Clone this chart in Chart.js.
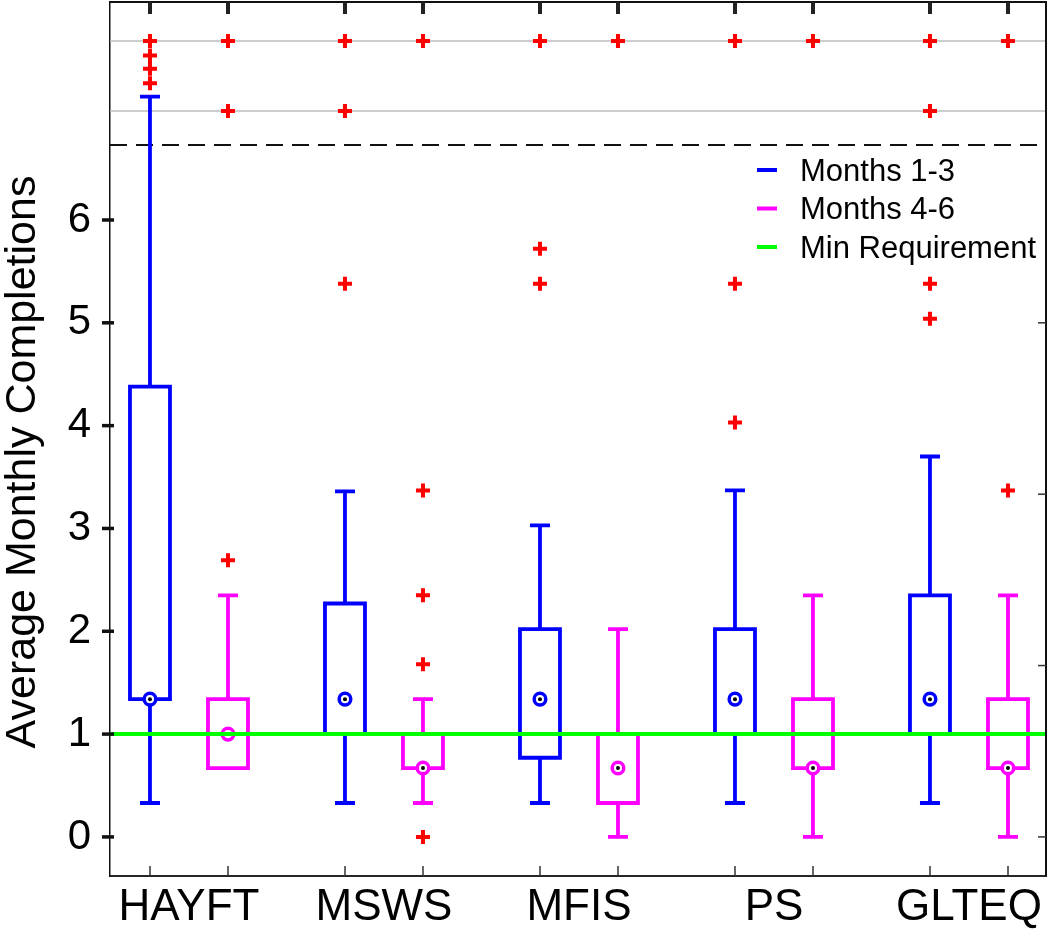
<!DOCTYPE html>
<html><head><meta charset="utf-8">
<script src="https://cdn.jsdelivr.net/npm/chart.js@4.4.1/dist/chart.umd.min.js"></script>
<style>html,body{margin:0;padding:0;background:#fff;}canvas{display:block;}</style>
</head><body>
<canvas id="c" width="1050" height="929"></canvas>
<script>
// ---------------- DATA ----------------
const categories = ['HAYFT', 'MSWS', 'MFIS', 'PS', 'GLTEQ'];
const seriesLabels = ['Months 1-3', 'Months 4-6'];
const minRequirementLabel = 'Min Requirement';
const minRequirement = 1.0;
const yAxisTitle = 'Average Monthly Completions';

// Months 1-3
const m13Lower  = [0.33, 0.33, 0.33, 0.33, 0.33];
const m13Q1     = [1.34, 1.00, 0.77, 1.00, 1.00];
const m13Median = [1.34, 1.34, 1.34, 1.34, 1.34];
const m13Q3     = [4.38, 2.27, 2.02, 2.02, 2.35];
const m13Upper  = [7.20, 3.36, 3.03, 3.37, 3.70];
const m13Outliers = [[7.33, 7.47, 7.60, 7.74], [5.38, 7.06, 7.74], [5.38, 5.72, 7.74], [4.03, 5.38, 7.74], [5.04, 5.38, 7.06, 7.74]];

// Months 4-6
const m46Lower  = [0.67, 0.33, 0.00, 0.00, 0.00];
const m46Q1     = [0.67, 0.67, 0.33, 0.67, 0.67];
const m46Median = [1.00, 0.67, 0.67, 0.67, 0.67];
const m46Q3     = [1.34, 1.00, 1.00, 1.34, 1.34];
const m46Upper  = [2.35, 1.34, 2.02, 2.35, 2.35];
const m46Outliers = [[2.69, 7.06, 7.74], [0.00, 1.68, 2.35, 3.37, 7.74], [7.74], [7.74], [3.37, 7.74]];

const yTickValues = [0, 1, 2, 3, 4, 5, 6];
const rightTickValues = [0, 5 / 3, 10 / 3, 5];
const breakGuideValues = [7.06, 7.74];
const axisBreakValue = 6.73;

// ---------------- LAYOUT / STYLE ----------------
const xMin = 0.595, xMax = 5.395, yMin = -0.38, yMax = 8.12;
const groupOffset = 0.2, boxHalf = 0.1026, capHalf = 0.0513;
const BLUE = '#0000FF', MAGENTA = '#FF00FF', GREEN = '#00FF00', RED = '#FF0000';
const FONT = "'Liberation Sans', Arial, sans-serif";
const TITLE_SHIFT = 23;

const xs13 = categories.map((c, i) => i + 1 - groupOffset);
const xs46 = categories.map((c, i) => i + 1 + groupOffset);

function boxWhiskerData(xs, lo, q1, med, q3, hi) {
  const d = [];
  xs.forEach((x, i) => {
    d.push({x: x - boxHalf, y: q1[i]}, {x: x + boxHalf, y: q1[i]}, {x: x + boxHalf, y: q3[i]},
           {x: x - boxHalf, y: q3[i]}, {x: x - boxHalf, y: q1[i]}, {x: x + boxHalf, y: q1[i]}, {x: x, y: null});
    d.push({x: x, y: q3[i]}, {x: x, y: hi[i]}, {x: x, y: null});
    d.push({x: x - capHalf, y: hi[i]}, {x: x + capHalf, y: hi[i]}, {x: x, y: null});
    d.push({x: x, y: q1[i]}, {x: x, y: lo[i]}, {x: x, y: null});
    d.push({x: x - capHalf, y: lo[i]}, {x: x + capHalf, y: lo[i]}, {x: x, y: null});
  });
  return d;
}
function pointsData(xs, vals) { return xs.map((x, i) => ({x: x, y: vals[i]})); }
function outlierData(xs, outs) {
  const d = [];
  xs.forEach((x, i) => outs[i].forEach(v => d.push({x: x, y: v})));
  return d;
}
function hLine(v) { return [{x: xMin, y: v}, {x: xMax, y: v}]; }

const lineBase = {type: 'line', pointRadius: 0, pointHoverRadius: 0, tension: 0, spanGaps: false, fill: false,
  borderCapStyle: 'butt', borderJoinStyle: 'miter'};

const datasets = [
  Object.assign({}, lineBase, {label: minRequirementLabel, data: hLine(minRequirement), borderColor: GREEN, borderWidth: 4, order: 0}),
  {type: 'scatter', label: 'Outliers', data: outlierData(xs13, m13Outliers).concat(outlierData(xs46, m46Outliers)),
   pointStyle: 'cross', pointRadius: 7, pointBorderWidth: 4, pointBorderColor: RED, pointBackgroundColor: RED, order: 1},
  {type: 'scatter', label: 'Median centre', data: pointsData(xs13, m13Median).concat(pointsData(xs46, m46Median)),
   pointStyle: 'circle', pointRadius: 2, pointBorderWidth: 0, pointBackgroundColor: '#000', pointBorderColor: '#000', order: 2},
  {type: 'scatter', label: seriesLabels[0] + ' median', data: pointsData(xs13, m13Median),
   pointStyle: 'circle', pointRadius: 5.8, pointBorderWidth: 3.5, pointBorderColor: BLUE, pointBackgroundColor: '#fff', order: 3},
  {type: 'scatter', label: seriesLabels[1] + ' median', data: pointsData(xs46, m46Median),
   pointStyle: 'circle', pointRadius: 5.8, pointBorderWidth: 3.5, pointBorderColor: MAGENTA, pointBackgroundColor: '#fff', order: 3},
  Object.assign({}, lineBase, {label: seriesLabels[0], data: boxWhiskerData(xs13, m13Lower, m13Q1, m13Median, m13Q3, m13Upper),
   borderColor: BLUE, borderWidth: 3.8, order: 4}),
  Object.assign({}, lineBase, {label: seriesLabels[1], data: boxWhiskerData(xs46, m46Lower, m46Q1, m46Median, m46Q3, m46Upper),
   borderColor: MAGENTA, borderWidth: 3.8, order: 4}),
  Object.assign({}, lineBase, {label: 'Axis break', data: hLine(axisBreakValue), borderColor: '#111', borderWidth: 2,
   borderDash: [17, 9], order: 5}),
];
breakGuideValues.forEach(v => datasets.push(Object.assign({}, lineBase,
  {label: 'Guide', data: hLine(v), borderColor: '#BDBDBD', borderWidth: 1.5, order: 6})));

const legendItems = [
  {text: seriesLabels[0], color: BLUE},
  {text: seriesLabels[1], color: MAGENTA},
  {text: minRequirementLabel, color: GREEN},
];

const decorPlugin = {
  id: 'decor',
  afterLayout(chart) {
    const ys = chart.scales.y;
    if (!ys._titleWrapped) {
      const orig = ys.drawTitle;
      ys.drawTitle = function () {
        const c = this.ctx; c.save(); c.translate(0, TITLE_SHIFT); orig.apply(this, arguments); c.restore();
      };
      ys._titleWrapped = true;
    }
  },
  afterDraw(chart) {
    const ctx = chart.ctx, a = chart.chartArea;
    const xs = chart.scales.x, ys = chart.scales.y;
    ctx.save();
    // frame top / right
    ctx.strokeStyle = '#111'; ctx.lineWidth = 2;
    ctx.beginPath();
    ctx.moveTo(a.left, a.top); ctx.lineTo(a.right, a.top); ctx.lineTo(a.right, a.bottom);
    ctx.stroke();
    const all = xs13.concat(xs46);
    // top ticks (thick, inward)
    ctx.strokeStyle = '#222'; ctx.lineWidth = 4;
    all.forEach(v => { const p = Math.round(xs.getPixelForValue(v)); ctx.beginPath(); ctx.moveTo(p, a.top); ctx.lineTo(p, a.top + 12); ctx.stroke(); });
    // bottom ticks (thin, inward)
    ctx.strokeStyle = '#333'; ctx.lineWidth = 1.5;
    all.forEach(v => { const p = Math.round(xs.getPixelForValue(v)); ctx.beginPath(); ctx.moveTo(p, a.bottom); ctx.lineTo(p, a.bottom - 10); ctx.stroke(); });
    // right ticks (thin, inward)
    rightTickValues.forEach(v => { const p = ys.getPixelForValue(v); ctx.beginPath(); ctx.moveTo(a.right, p); ctx.lineTo(a.right - 8, p); ctx.stroke(); });
    // left ticks (thick, crossing)
    ctx.strokeStyle = '#111'; ctx.lineWidth = 3.5;
    yTickValues.forEach(v => { const p = ys.getPixelForValue(v); ctx.beginPath(); ctx.moveTo(a.left - 8, p); ctx.lineTo(a.left + 4, p); ctx.stroke(); });
    // legend
    ctx.font = '31px ' + FONT; ctx.textBaseline = 'middle'; ctx.textAlign = 'left'; ctx.fillStyle = '#000';
    legendItems.forEach((it, i) => {
      const y = a.top + 168 + i * 38.5;
      ctx.strokeStyle = it.color; ctx.lineWidth = 4;
      ctx.beginPath(); ctx.moveTo(a.right - 289, y); ctx.lineTo(a.right - 269, y); ctx.stroke();
      ctx.fillText(it.text, a.right - 246, y + 2);
    });
    ctx.restore();
  }
};

new Chart(document.getElementById('c'), {
  type: 'scatter',
  data: {datasets: datasets},
  plugins: [decorPlugin],
  options: {
    responsive: false, animation: false, devicePixelRatio: 1, events: [],
    layout: {autoPadding: false, padding: {top: 2, right: 4, left: 0, bottom: 0}},
    plugins: {legend: {display: false}, tooltip: {enabled: false}},
    scales: {
      x: {
        type: 'linear', position: 'bottom', min: xMin, max: xMax,
        grid: {display: false, drawTicks: false},
        border: {display: true, color: '#262626', width: 2},
        afterBuildTicks: s => { s.ticks = categories.map((c, i) => ({value: i + 1})); },
        afterFit: s => { s.height = 53; s.paddingLeft = 0; s.paddingRight = 0; },
        ticks: {autoSkip: false, maxRotation: 0, padding: 5, color: '#000',
          font: {family: FONT, size: 44},
          callback: v => categories[Math.round(v) - 1]}
      },
      y: {
        type: 'linear', min: yMin, max: yMax,
        grid: {display: false},
        border: {display: true, color: '#111', width: 1.5},
        afterBuildTicks: s => { s.ticks = yTickValues.map(v => ({value: v})); },
        afterFit: s => { s.width = 110; s.paddingTop = 0; s.paddingBottom = 0; },
        ticks: {padding: 11, color: '#000', font: {family: FONT, size: 42}},
        title: {display: true, text: yAxisTitle, color: '#000', font: {family: FONT, size: 43, lineHeight: 1}, padding: {top: 2, bottom: 0}}
      }
    }
  }
});
</script>
</body></html>
